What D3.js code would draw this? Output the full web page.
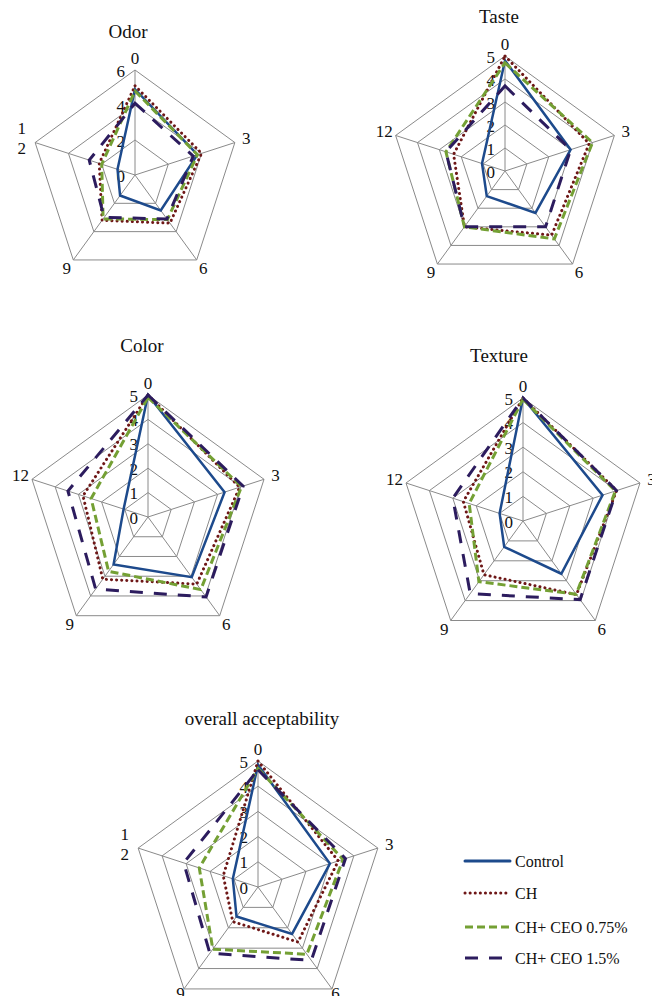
<!DOCTYPE html>
<html>
<head>
<meta charset="utf-8">
<script src="https://cdn.jsdelivr.net/npm/d3@7/dist/d3.min.js"></script>
<style>
  body { margin: 0; background: #fff; }
  text { font-family: "Liberation Serif", "DejaVu Serif", "Noto Serif", Times, serif !important; }
</style>
</head>
<body>
<div id="chart"></div>
<script>
// storage days on the spokes
const categories = ["0", "3", "6", "9", "12"];
const seriesNames = ["Control", "CH", "CH+ CEO 0.75%", "CH+ CEO 1.5%"];

// one row per series, one value per day
const odorValues = [
  [4.9, 3.75, 2.5, 1.45, 1.05],
  [5.1, 4.0, 3.4, 3.2, 2.15],
  [4.8, 3.75, 3.15, 3.1, 2.0],
  [4.1, 3.5, 3.1, 3.0, 2.75]
];
const tasteValues = [
  [4.8, 3.0, 2.25, 1.35, 1.05],
  [5.0, 3.85, 3.45, 3.0, 2.35],
  [4.7, 4.0, 3.65, 3.0, 2.7],
  [3.7, 3.0, 3.0, 3.0, 2.7]
];
const colorValues = [
  [5.0, 3.3, 3.05, 2.4, 1.05],
  [5.0, 3.95, 3.4, 3.15, 2.8],
  [4.9, 4.03, 3.68, 2.75, 2.45],
  [5.0, 4.1, 4.05, 3.65, 3.45]
];
const textureValues = [
  [5.0, 3.4, 2.65, 1.3, 1.0],
  [5.0, 4.0, 3.7, 2.7, 2.55],
  [4.95, 3.95, 3.68, 3.05, 2.3],
  [5.0, 4.0, 3.95, 3.65, 3.0]
];
const overallValues = [
  [4.85, 3.0, 2.3, 1.45, 1.05],
  [5.0, 3.35, 2.7, 1.7, 1.45],
  [4.7, 3.55, 3.3, 3.05, 2.45],
  [4.65, 3.65, 3.6, 3.25, 3.1]
];

const odorTicks = [0, 2, 4, 6];
const scoreTicks = [0, 1, 2, 3, 4, 5];

// line styles per series
const seriesColors = ["#1d4a8c", "#6e1717", "#74a034", "#2c1c5e"];
const seriesDash = [null, "0.1 5", "8 4", "13 11"];
const seriesCap = ["round", "round", "butt", "butt"];

// where each small chart sits on the page
const panels = [
  { title: "Odor", values: odorValues, ticks: odorTicks, cx: 135, cy: 175, r: 105, tx: 128, ty: 38, wrap: true, lab: 11 },
  { title: "Taste", values: tasteValues, ticks: scoreTicks, cx: 505, cy: 171, r: 115, tx: 499, ty: 23, wrap: false, lab: 11 },
  { title: "Color", values: colorValues, ticks: scoreTicks, cx: 148, cy: 517, r: 122, tx: 142, ty: 352, wrap: false, lab: 11 },
  { title: "Texture", values: textureValues, ticks: scoreTicks, cx: 523, cy: 521, r: 123, tx: 499, ty: 362, wrap: false, lab: 11 },
  { title: "overall acceptability", values: overallValues, ticks: scoreTicks, cx: 258, cy: 887, r: 126, tx: 262, ty: 725, wrap: true, lab: 6 }
];

const svg = d3.select("#chart").append("svg")
  .attr("width", 652)
  .attr("height", 996)
  .attr("fill", "#111");

const angle = d3.scaleLinear()
  .domain([0, categories.length])
  .range([0, 2 * Math.PI]);

function drawRadar(p) {
  const g = svg.append("g")
    .attr("transform", "translate(" + p.cx + "," + p.cy + ")");

  const rScale = d3.scaleLinear()
    .domain([0, d3.max(p.ticks)])
    .range([0, p.r]);

  const pt = (i, v) => [Math.sin(angle(i)) * rScale(v), -Math.cos(angle(i)) * rScale(v)];

  // rings
  p.ticks.slice(1).forEach(t => {
    g.append("polygon")
      .attr("points", categories.map((c, i) => pt(i, t).join(",")).join(" "))
      .attr("fill", "none")
      .attr("stroke", "#8a8a8a")
      .attr("stroke-width", 1);
  });

  // spokes
  categories.forEach((c, i) => {
    const [x, y] = pt(i, d3.max(p.ticks));
    g.append("line")
      .attr("x1", 0).attr("y1", 0)
      .attr("x2", x).attr("y2", y)
      .attr("stroke", "#8a8a8a")
      .attr("stroke-width", 1);
  });

  // tick labels up the first spoke
  g.selectAll(".tick")
    .data(p.ticks)
    .enter().append("text")
    .attr("x", -10)
    .attr("y", d => -rScale(d) + 1)
    .attr("text-anchor", "end")
    .attr("dominant-baseline", "central")
    .attr("font-size", 17)
    .text(d => d);

  // category labels
  categories.forEach((c, i) => {
    const a = angle(i);
    const rr = p.r + (Math.cos(a) < 0 ? p.lab : 12);
    const x = Math.sin(a) * rr, y = -Math.cos(a) * rr;
    const t = g.append("text")
      .attr("text-anchor", "middle")
      .attr("font-size", 17);
    if (p.wrap && c.length > 1) {
      t.append("tspan").attr("x", x - 2).attr("y", y - 10).attr("dominant-baseline", "central").text(c[0]);
      t.append("tspan").attr("x", x - 2).attr("y", y + 10).attr("dominant-baseline", "central").text(c.slice(1));
    } else {
      t.attr("x", x).attr("y", y).attr("dominant-baseline", "central").text(c);
    }
  });

  // series
  const line = d3.lineRadial()
    .angle((d, i) => angle(i))
    .radius(d => rScale(d))
    .curve(d3.curveLinearClosed);

  p.values.forEach((vals, s) => {
    g.append("path")
      .attr("d", line(vals))
      .attr("fill", "none")
      .attr("stroke", seriesColors[s])
      .attr("stroke-width", s === 0 ? 2.5 : 3)
      .attr("stroke-dasharray", seriesDash[s])
      .attr("stroke-linecap", seriesCap[s])
      .attr("stroke-linejoin", "miter");
  });

  svg.append("text")
    .attr("x", p.tx)
    .attr("y", p.ty)
    .attr("text-anchor", "middle")
    .attr("font-size", 19)
    .text(p.title);
}

panels.forEach(drawRadar);

// legend
const legend = svg.append("g").attr("transform", "translate(465,861)");
seriesNames.forEach((name, s) => {
  const row = legend.append("g").attr("transform", "translate(0," + [0, 32, 66, 97][s] + ")");
  row.append("line")
    .attr("x1", 0).attr("x2", 45)
    .attr("y1", 0).attr("y2", 0)
    .attr("stroke", seriesColors[s])
    .attr("stroke-width", 3)
    .attr("stroke-dasharray", seriesDash[s])
    .attr("stroke-linecap", seriesCap[s]);
  row.append("text")
    .attr("x", 50)
    .attr("y", 0)
    .attr("dominant-baseline", "central")
    .attr("font-size", 16)
    .text(name);
});
</script>
</body>
</html>
